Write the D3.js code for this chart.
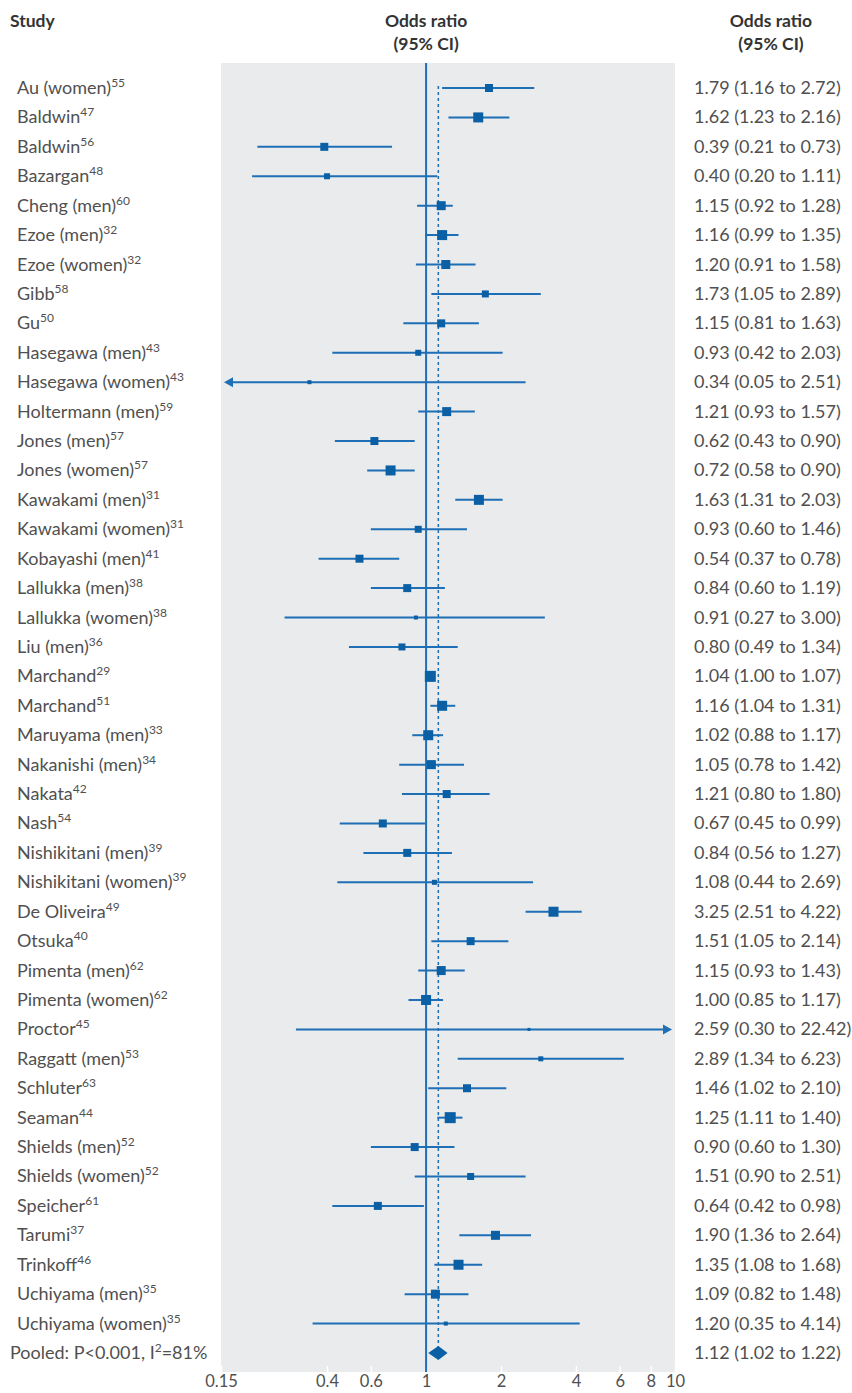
<!DOCTYPE html>
<html>
<head>
<meta charset="utf-8">
<script src="https://cdn.jsdelivr.net/npm/d3@7"></script>
<style>
  body { margin: 0; background: #fff; }
  text { font-family: Lato, "Noto Sans", sans-serif; }
</style>
</head>
<body>
<div id="chart"></div>
<script>
// study names, reference superscripts, odds ratios and CIs
var studies = ["Au (women)", "Baldwin", "Baldwin", "Bazargan", "Cheng (men)", "Ezoe (men)", "Ezoe (women)", "Gibb", "Gu",
  "Hasegawa (men)", "Hasegawa (women)", "Holtermann (men)", "Jones (men)", "Jones (women)", "Kawakami (men)",
  "Kawakami (women)", "Kobayashi (men)", "Lallukka (men)", "Lallukka (women)", "Liu (men)", "Marchand", "Marchand",
  "Maruyama (men)", "Nakanishi (men)", "Nakata", "Nash", "Nishikitani (men)", "Nishikitani (women)", "De Oliveira",
  "Otsuka", "Pimenta (men)", "Pimenta (women)", "Proctor", "Raggatt (men)", "Schluter", "Seaman", "Shields (men)",
  "Shields (women)", "Speicher", "Tarumi", "Trinkoff", "Uchiyama (men)", "Uchiyama (women)"];
var refs = ["55", "47", "56", "48", "60", "32", "32", "58", "50", "43", "43", "59", "57", "57", "31", "31", "41", "38", "38",
  "36", "29", "51", "33", "34", "42", "54", "39", "39", "49", "40", "62", "62", "45", "53", "63", "44", "52", "52", "61",
  "37", "46", "35", "35"];
var or = [1.79, 1.62, 0.39, 0.40, 1.15, 1.16, 1.20, 1.73, 1.15, 0.93, 0.34, 1.21, 0.62, 0.72, 1.63, 0.93, 0.54, 0.84, 0.91,
  0.80, 1.04, 1.16, 1.02, 1.05, 1.21, 0.67, 0.84, 1.08, 3.25, 1.51, 1.15, 1.00, 2.59, 2.89, 1.46, 1.25, 0.90, 1.51, 0.64,
  1.90, 1.35, 1.09, 1.20];
var lower = [1.16, 1.23, 0.21, 0.20, 0.92, 0.99, 0.91, 1.05, 0.81, 0.42, 0.05, 0.93, 0.43, 0.58, 1.31, 0.60, 0.37, 0.60, 0.27,
  0.49, 1.00, 1.04, 0.88, 0.78, 0.80, 0.45, 0.56, 0.44, 2.51, 1.05, 0.93, 0.85, 0.30, 1.34, 1.02, 1.11, 0.60, 0.90, 0.42,
  1.36, 1.08, 0.82, 0.35];
var upper = [2.72, 2.16, 0.73, 1.11, 1.28, 1.35, 1.58, 2.89, 1.63, 2.03, 2.51, 1.57, 0.90, 0.90, 2.03, 1.46, 0.78, 1.19, 3.00,
  1.34, 1.07, 1.31, 1.17, 1.42, 1.80, 0.99, 1.27, 2.69, 4.22, 2.14, 1.43, 1.17, 22.42, 6.23, 2.10, 1.40, 1.30, 2.51, 0.98,
  2.64, 1.68, 1.48, 4.14];
// relative study weight (drives box size)
var weight = [4, 5, 4, 3, 4.5, 5, 4.5, 3.5, 4, 3, 2, 4.5, 4, 5, 5, 3.5, 4, 4, 2, 3.5, 5.5, 5, 5, 4.5, 4, 4, 4, 2.5, 5, 4, 4.5,
  5, 1.5, 2.5, 4, 5.5, 4, 3.5, 4, 4.5, 5, 4.5, 2];
var pooled = {label: "Pooled: P<0.001, I", sup: "2", tail: "=81%", or: 1.12, lower: 1.02, upper: 1.22};
var tickValues = [0.15, 0.4, 0.6, 1, 2, 4, 6, 8, 10];

var width = 852, height = 1393;
var blue = "#1f6fb6", boxBlue = "#0b5fa5", grey = "#505050";
var fs = 18, supFs = 12;

var svg = d3.select("#chart").append("svg")
    .attr("width", width)
    .attr("height", height);

var x = d3.scaleLog().domain([0.15, 10]).range([221, 675]);
var rows = d3.range(studies.length + 1);
var y = d3.scalePoint().domain(rows).range([88, 1353]);

var panelTop = 63, panelBottom = 1372;

svg.append("rect")
    .attr("x", x(0.15))
    .attr("y", panelTop)
    .attr("width", x(10) - x(0.15))
    .attr("height", panelBottom - panelTop)
    .attr("fill", "#e9ebec");

// headers
var head = svg.append("g").attr("font-weight", "bold").attr("font-size", 17.5).attr("fill", "#333");
head.append("text").attr("x", 10).attr("y", 27).text("Study");
head.append("text").attr("x", x(1)).attr("y", 27).attr("text-anchor", "middle").text("Odds ratio");
head.append("text").attr("x", x(1)).attr("y", 50).attr("text-anchor", "middle").text("(95% CI)");
head.append("text").attr("x", 771).attr("y", 27).attr("text-anchor", "middle").text("Odds ratio");
head.append("text").attr("x", 771).attr("y", 50).attr("text-anchor", "middle").text("(95% CI)");

// axis: white tick marks inside panel, labels below
var xAxis = d3.axisBottom(x).tickValues(tickValues).tickFormat(d3.format("")).tickSize(6).tickPadding(3);
var ax = svg.append("g")
    .attr("transform", "translate(0," + (panelBottom - 6) + ")")
    .call(xAxis);
ax.select(".domain").remove();
ax.selectAll(".tick line").attr("stroke", "#fff").attr("stroke-width", 1.5);
ax.selectAll(".tick text").attr("font-size", 16.5).attr("fill", grey).attr("font-family", "Lato, 'Noto Sans', sans-serif");

// reference lines
svg.append("line")
    .attr("x1", x(1)).attr("x2", x(1))
    .attr("y1", panelTop).attr("y2", panelBottom)
    .attr("stroke", blue).attr("stroke-width", 2);
svg.append("line")
    .attr("x1", x(pooled.or)).attr("x2", x(pooled.or))
    .attr("y1", y(0) - 2).attr("y2", y(studies.length))
    .attr("stroke", blue).attr("stroke-width", 1.5)
    .attr("stroke-dasharray", "3,3");

var lo = x.domain()[0], hi = x.domain()[1];

var g = svg.selectAll(".study")
    .data(studies)
    .enter().append("g")
    .attr("class", "study");

g.append("line")
    .attr("x1", function (d, i) { return x(Math.max(lower[i], lo)) + (lower[i] < lo ? 6 : 0); })
    .attr("x2", function (d, i) { return x(Math.min(upper[i], hi)) - (upper[i] > hi ? 6 : 0); })
    .attr("y1", function (d, i) { return y(i); })
    .attr("y2", function (d, i) { return y(i); })
    .attr("stroke", blue).attr("stroke-width", 2);

g.each(function (d, i) {
    var sel = d3.select(this), yy = y(i);
    if (lower[i] < lo) {
        sel.append("path").attr("fill", blue)
            .attr("d", "M" + (x(lo) + 3) + "," + yy + "l9,-5v10z");
    }
    if (upper[i] > hi) {
        sel.append("path").attr("fill", blue)
            .attr("d", "M" + (x(hi) - 3) + "," + yy + "l-9,-5v10z");
    }
});

g.append("rect")
    .attr("x", function (d, i) { return x(or[i]) - weight[i]; })
    .attr("y", function (d, i) { return y(i) - weight[i]; })
    .attr("width", function (d, i) { return 2 * weight[i]; })
    .attr("height", function (d, i) { return 2 * weight[i]; })
    .attr("fill", boxBlue);

var f2 = d3.format(".2f");
function ciText(o, l, u) { return f2(o) + " (" + f2(l) + " to " + f2(u) + ")"; }

var label = g.append("text")
    .attr("x", 17)
    .attr("y", function (d, i) { return y(i) + 6; })
    .attr("font-size", fs)
    .attr("fill", grey);
label.append("tspan").text(function (d) { return d; });
label.append("tspan").attr("dy", -7).attr("font-size", supFs).text(function (d, i) { return refs[i]; });

g.append("text")
    .attr("x", 694)
    .attr("y", function (d, i) { return y(i) + 6; })
    .attr("font-size", fs)
    .attr("fill", grey)
    .text(function (d, i) { return ciText(or[i], lower[i], upper[i]); });

// pooled row
var py = y(studies.length);
svg.append("path")
    .attr("fill", boxBlue)
    .attr("d", "M" + x(pooled.lower) + "," + py + "L" + x(pooled.or) + "," + (py - 7) +
        "L" + x(pooled.upper) + "," + py + "L" + x(pooled.or) + "," + (py + 7) + "Z");
var pl = svg.append("text").attr("x", 10).attr("y", py + 6).attr("font-size", fs).attr("fill", grey);
pl.append("tspan").text(pooled.label);
pl.append("tspan").attr("dy", -7).attr("font-size", supFs).text(pooled.sup);
pl.append("tspan").attr("dy", 7).text(pooled.tail);
svg.append("text").attr("x", 694).attr("y", py + 6).attr("font-size", fs).attr("fill", grey)
    .text(ciText(pooled.or, pooled.lower, pooled.upper));
</script>
</body>
</html>
